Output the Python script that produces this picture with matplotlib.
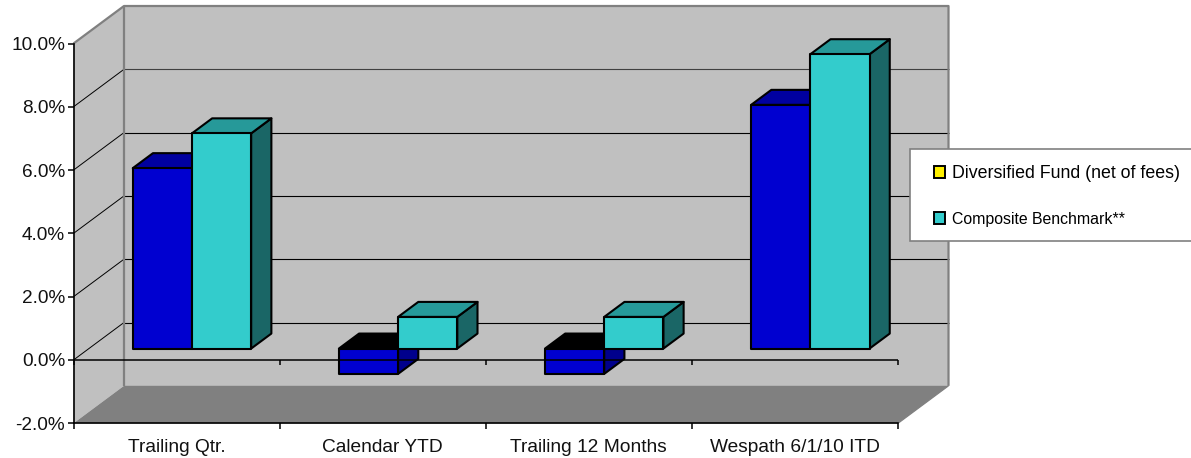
import matplotlib
matplotlib.use('Agg')
import matplotlib.pyplot as plt
from matplotlib.patches import Polygon, Patch, Rectangle

plt.rcParams['font.family'] = ['Liberation Sans', 'DejaVu Sans']

categories = ['Trailing Qtr.', 'Calendar YTD', 'Trailing 12 Months', 'Wespath 6/1/10 ITD']
fund_values = [5.7, -0.8, -0.8, 7.7]
benchmark_values = [6.8, 1.0, 1.0, 9.3]
y_ticks = [-2, 0, 2, 4, 6, 8, 10]
legend_labels = ['Diversified Fund (net of fees)', 'Composite Benchmark**']

# depth of the fake 3d box, in data units
DX = 50.5 / 206.1
DY = 37.5 / 31.65
BAR_W = 59.2 / 206.1
BAR_START = 0.305   # front of the bars inside the box depth
BAR_DEPTH = 0.40

GREY = '#808080'
WALL = '#C0C0C0'

fig = plt.figure(figsize=(11.91, 4.58), dpi=100, facecolor='white')
ax = fig.add_axes([73.5 / 1191, (458 - 423.3) / 458, 824.5 / 1191, 379.8 / 458])
ax.set_xlim(0, 4)
ax.set_ylim(-2, 10)
ax.patch.set_visible(False)


def poly(pts, fc, ec='none', lw=0, z=1):
    ax.add_patch(Polygon(pts, closed=True, facecolor=fc, edgecolor=ec, linewidth=lw,
                         zorder=z, clip_on=False, joinstyle='round'))


def line(xs, ys, color='black', lw=0.7, z=2):
    ax.plot(xs, ys, color=color, lw=lw, zorder=z, clip_on=False, solid_capstyle='butt')


# walls and floor
poly([(0, -2), (0, 10), (DX, 10 + DY), (DX, -2 + DY)], WALL)
poly([(DX, -2 + DY), (DX, 10 + DY), (4 + DX, 10 + DY), (4 + DX, -2 + DY)], WALL)
poly([(0, -2), (4, -2), (4 + DX, -2 + DY), (DX, -2 + DY)], GREY)

# gridlines
for t in y_ticks[1:-1]:
    line([0, DX], [t, t + DY])
    line([DX, 4 + DX], [t + DY, t + DY], color='#404040' if t == 8 else 'black', lw=0.8)

# wall borders
line([DX, DX], [-2 + DY, 10 + DY], color=GREY, lw=1.6)
line([0, DX, 4 + DX, 4 + DX], [10, 10 + DY, 10 + DY, -2 + DY], color=GREY, lw=1.6)
line([4, 4 + DX], [-2, -2 + DY], color=GREY, lw=0.9)


def draw_bar(x, val, front, top, side, z):
    ox = x + DX * BAR_START
    oy = DY * BAR_START
    ddx = DX * BAR_DEPTH
    ddy = DY * BAR_DEPTH
    hi = max(val, 0) + oy
    lo = min(val, 0) + oy
    r = ox + BAR_W
    kw = dict(ec='black', lw=1.5, z=z)
    poly([(r, lo), (r, hi), (r + ddx, hi + ddy), (r + ddx, lo + ddy)], side, **kw)
    poly([(ox, hi), (r, hi), (r + ddx, hi + ddy), (ox + ddx, hi + ddy)], top, **kw)
    poly([(ox, lo), (r, lo), (r, hi), (ox, hi)], front, **kw)


for i in range(len(categories)):
    mid = i + 0.5
    fund_top = '#0000A0' if fund_values[i] > 0 else 'black'
    fund_side = '#00008C' if fund_values[i] < 0 else '#000080'
    draw_bar(mid - BAR_W, fund_values[i], '#0000D0', fund_top, fund_side, 3 + i)
    draw_bar(mid, benchmark_values[i], '#33CCCC', '#269999', '#1A6666', 3.5 + i)

# front zero line with its ticks
line([0, 4], [0, 0], lw=1.1, z=10)
for i in range(5):
    line([i, i], [0, -0.17], lw=1.1, z=10)

# axes
for s in ['top', 'right']:
    ax.spines[s].set_visible(False)
for s in ['left', 'bottom']:
    ax.spines[s].set_linewidth(1.2)
    ax.spines[s].set_zorder(11)
ax.set_yticks(y_ticks)
ax.set_yticklabels(['%.1f%%' % t for t in y_ticks], fontsize=13.7, color='#111111')
ax.tick_params(axis='y', length=4, width=1.1, pad=2)
ax.set_xticks(range(5))
ax.set_xticklabels([])
ax.tick_params(axis='x', which='major', length=4, width=1.1)
ax.set_xticks([i + 0.5 for i in range(4)], minor=True)
ax.set_xticklabels(categories, minor=True, fontsize=13.8, color='#111111')
ax.tick_params(axis='x', which='minor', length=0, pad=11)

# legend box runs off the right side of the picture
box = Rectangle((909.7 / 1191, (458 - 240.7) / 458), 300 / 1191, 91.7 / 458,
                transform=fig.transFigure, facecolor='white', edgecolor=GREY,
                linewidth=1.2, clip_on=False, zorder=20)
fig.add_artist(box)
handles = [Patch(facecolor='#FFF000', edgecolor='black', linewidth=1.4),
           Patch(facecolor='#33CCCC', edgecolor='black', linewidth=1.4)]
leg = fig.legend(handles, legend_labels, loc='upper left',
                 bbox_to_anchor=(928.5 / 1191, (458 - 160) / 458), frameon=False,
                 fontsize=12.8, handlelength=0.65, handleheight=0.65,
                 handletextpad=0.35, labelspacing=1.65, borderpad=0.3, borderaxespad=0)
leg.set_zorder(21)
leg.get_texts()[1].set_fontsize(11.4)

fig.savefig('out.png', dpi=100)
